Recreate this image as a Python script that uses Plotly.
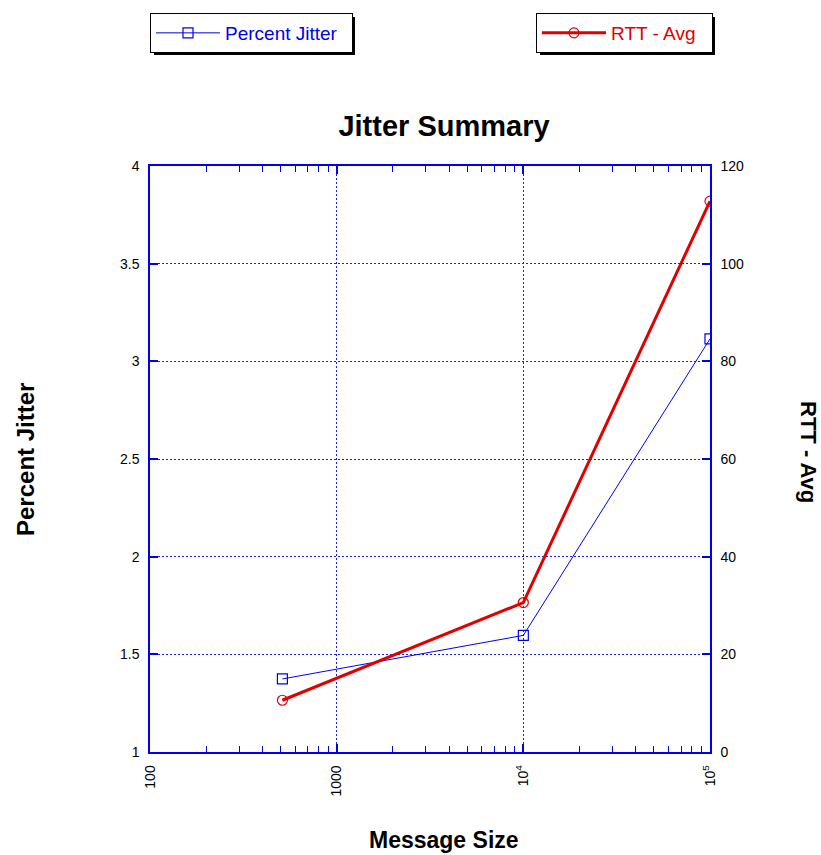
import plotly.graph_objects as go

# ---- data ----
message_size = [512, 10000, 100000]
percent_jitter = [1.374, 1.597, 3.115]
rtt_avg = [10.6, 30.6, 112.8]

x_tickvals = [100, 1000, 10000, 100000]
x_ticktext = ["100", "1000", "10<sup>4</sup>", "10<sup>5</sup>"]
y1_tickvals = [1, 1.5, 2, 2.5, 3, 3.5, 4]
y1_ticktext = ["1", "1.5", "2", "2.5", "3", "3.5", "4"]
y2_tickvals = [0, 20, 40, 60, 80, 100, 120]

BLUE = "#0000f0"
GRID = "#1a1aff"
RED = "#e00000"
FONT = "Liberation Sans"

W, H = 821, 855
L, R, T, B = 150, 111, 166, 103
PW = W - L - R
PH = H - T - B


def px(xp):
    return (xp - L) / PW


def py(yp):
    return (H - B - yp) / PH


fig = go.Figure()
fig.add_trace(go.Scatter(
    x=message_size, y=percent_jitter, name="Percent Jitter",
    mode="lines+markers",
    line=dict(color=BLUE, width=1),
    marker=dict(symbol="square-open", size=10, color=BLUE, line=dict(width=1.2)),
    legend="legend", yaxis="y", showlegend=True,
))
fig.add_trace(go.Scatter(
    x=message_size, y=rtt_avg, name="RTT - Avg",
    mode="lines+markers",
    line=dict(color=RED, width=3),
    marker=dict(symbol="circle-open", size=10, color=RED, line=dict(width=1.2)),
    legend="legend2", yaxis="y2", showlegend=True,
))

# legend box drop shadows
BOX_TOP, BOX_BOT = 13, 51
for x0, x1 in [(150, 351), (536, 711)]:
    fig.add_shape(type="rect", xref="paper", yref="paper",
                  x0=px(x0 + 4), x1=px(x1 + 4), y0=py(BOX_BOT + 4), y1=py(BOX_TOP + 4),
                  fillcolor="black", line=dict(width=0), layer="below")

common_legend = dict(
    xref="paper", yref="paper", xanchor="left", yanchor="top",
    bgcolor="white", bordercolor="black", borderwidth=1,
    orientation="h", entrywidthmode="pixels", tracegroupgap=0,
    itemwidth=64,
)

fig.update_layout(
    width=W, height=H, showlegend=True,
    margin=dict(l=L, r=R, t=T, b=B, autoexpand=False),
    paper_bgcolor="white", plot_bgcolor="white",
    font=dict(family=FONT, size=14, color="black"),
    title=dict(text="Jitter Summary", x=px(444), xref="paper", xanchor="center",
               y=1 - 126 / H, yref="container", yanchor="middle",
               font=dict(family=FONT, size=29, color="black", weight="bold")),
    xaxis=dict(
        type="log", range=[2, 5],
        tickvals=x_tickvals, ticktext=x_ticktext, tickangle=-90,
        ticks="inside", ticklen=8, tickcolor=BLUE, tickwidth=1.5,
        showline=True, linecolor=BLUE, linewidth=1.5, mirror="ticks",
        showgrid=True, gridcolor=GRID, griddash="2px,2px", gridwidth=1,
        minor=dict(ticks="inside", ticklen=6, tickcolor=BLUE, tickwidth=1.2,
                   dtick="D1", showgrid=False),
        tickfont=dict(size=14, color="black"),
        ticklabelstandoff=6,
        zeroline=False,
    ),
    yaxis=dict(
        range=[1, 4], tickvals=y1_tickvals, ticktext=y1_ticktext,
        ticks="inside", ticklen=8, tickcolor=BLUE, tickwidth=1.5,
        showline=True, linecolor=BLUE, linewidth=1.5, mirror=False,
        showgrid=True, gridcolor=GRID, griddash="2px,2px", gridwidth=1,
        tickfont=dict(size=14, color="black"),
        ticklabelstandoff=6,
        zeroline=False,
    ),
    yaxis2=dict(
        range=[0, 120], tickvals=y2_tickvals, overlaying="y", side="right",
        ticks="inside", ticklen=8, tickcolor=BLUE, tickwidth=1.5,
        showline=True, linecolor=BLUE, linewidth=1.5,
        showgrid=False, zeroline=False,
        tickfont=dict(size=14, color="black"),
        ticklabelstandoff=6,
    ),
    legend=dict(
        x=px(150), y=py(13), entrywidth=122,
        font=dict(family=FONT, size=19, color=BLUE),
        **common_legend,
    ),
    legend2=dict(
        x=px(536), y=py(13), entrywidth=96,
        font=dict(family=FONT, size=19, color=RED),
        **common_legend,
    ),
    annotations=[
        dict(text="Percent Jitter", x=px(25), y=py(460), xref="paper", yref="paper",
             textangle=-90, showarrow=False, xanchor="center", yanchor="middle",
             font=dict(family=FONT, size=24, color="black", weight="bold")),
        dict(text="RTT - Avg", x=px(809), y=py(452), xref="paper", yref="paper",
             textangle=90, showarrow=False, xanchor="center", yanchor="middle",
             font=dict(family=FONT, size=22, color="black", weight="bold")),
        dict(text="Message Size", x=px(444), y=py(840), xref="paper", yref="paper",
             showarrow=False, xanchor="center", yanchor="middle",
             font=dict(family=FONT, size=23, color="black", weight="bold")),
    ],
)

fig.write_html("out.html", config={"displayModeBar": False},
               post_script="document.body.style.margin='0';document.body.style.overflow='hidden';")
